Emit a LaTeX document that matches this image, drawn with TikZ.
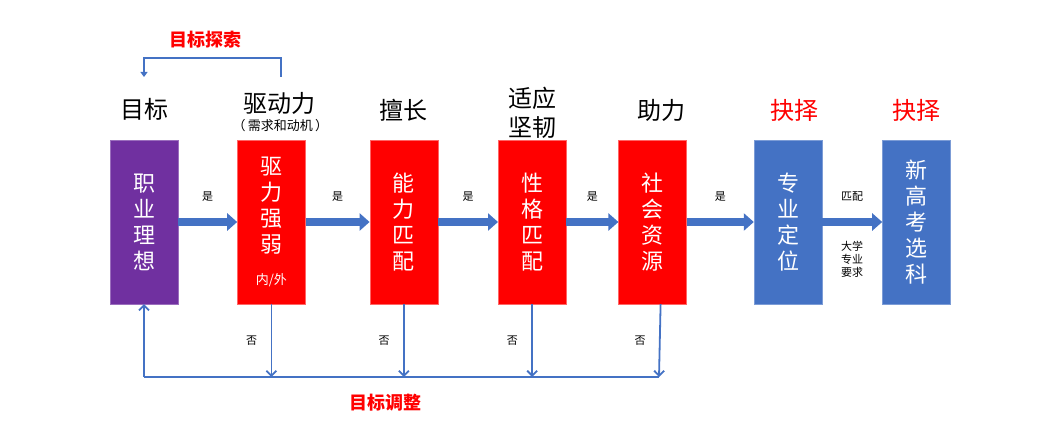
\documentclass[tikz,border=0pt]{standalone}
\usepackage{fontspec}
\setmainfont{Noto Sans CJK SC}
\usetikzlibrary{positioning}
\usetikzlibrary{arrows.meta}
\definecolor{myblue}{HTML}{4472C4}
\definecolor{mypurple}{HTML}{7030A0}
\definecolor{myred}{HTML}{FF0000}

\begin{document}
\begin{tikzpicture}
			[
				x = 1pt, y = -1pt,
				mybox/.style = {rectangle, text = white, align = center, inner sep = 0pt, minimum width = 68pt, minimum height = 164pt, font = \fontsize{22}{26}\selectfont},
				mypurplebox/.style = {mybox, fill = mypurple, draw = mypurple!70!white},
				myredbox/.style = {mybox, fill = myred, draw = myred!60!white},
				mybluebox/.style = {mybox, fill = myblue, draw = myblue!70!white},
				myheader/.style = {align = center, font = \fontsize{24}{29}\selectfont},
				mylabel/.style = {text = black, align = center, font = \fontsize{11}{13}\selectfont},
				mytitle/.style = {text = myred, font = \fontsize{18}{22}\selectfont\bfseries},
				mybigarrow/.style = {myblue, line width = 8pt, -{Triangle[length = 10pt, width = 17pt]}},
				myarrow/.style = {myblue, line width = 1.8pt, -{Straight Barb[length = 5pt, width = 10pt]}},
				mysmallarrow/.style = {myblue, line width = 1.8pt, -{Triangle[length = 5pt, width = 7pt]}},
				myline/.style = {myblue, line width = 1.8pt}
			]
			\useasboundingbox (0,0) rectangle (1044,446);
			%
			\node (zyl) [mypurplebox] at (144,222) {职\\业\\理\\想};
			\node (qlq) [myredbox, right = 59pt of zyl] {驱\\力\\强\\弱\\[6pt]{\fontsize{13}{13}\selectfont 内/外}};
			\node (nlp) [myredbox, right = 64pt of qlq] {能\\力\\匹\\配};
			\node (xgp) [myredbox, right = 60pt of nlp] {性\\格\\匹\\配};
			\node (shz) [myredbox, right = 52pt of xgp] {社\\会\\资\\源};
			\node (zyd) [mybluebox, right = 67pt of shz] {专\\业\\定\\位};
			\node (xgk) [mybluebox, right = 60pt of zyd] {新\\高\\考\\选\\科};
			%
			\node (mb) [myheader, above = 30pt of zyl.north, anchor = center] {目标};
			\node (xq) [myheader, font = \fontsize{13}{15}\selectfont, above = 14pt of qlq.north, anchor = center, xshift = 9pt] {（\,需求和动机\,）};
			\node (qdl) [myheader, above = 36pt of qlq.north, anchor = center, xshift = 8pt] {驱动力};
			\node (sc) [myheader, above = 30pt of nlp.north, anchor = center] {擅长};
			\node (syj) [myheader, above = 27pt of xgp.north, anchor = center] {适应\\坚韧};
			\node (zl) [myheader, above = 29pt of shz.north, anchor = center, xshift = 9pt] {助力};
			\node (jz1) [myheader, text = myred, above = 29pt of zyd.north, anchor = center, xshift = 6pt] {抉择};
			\node (jz2) [myheader, text = myred, above = 29pt of xgk.north, anchor = center] {抉择};
			%
			\draw [mybigarrow] (zyl) -- (qlq) node [midway, above = 13pt, mylabel] {是};
			\draw [mybigarrow] (qlq) -- (nlp) node [midway, above = 13pt, mylabel] {是};
			\draw [mybigarrow] (nlp) -- (xgp) node [midway, above = 13pt, mylabel] {是};
			\draw [mybigarrow] (xgp) -- (shz) node [midway, above = 13pt, mylabel] {是};
			\draw [mybigarrow] (shz) -- (zyd) node [midway, above = 13pt, mylabel] {是};
			\draw [mybigarrow] (zyd) -- (xgk) node [midway, above = 13pt, mylabel] {匹配} node [midway, below = 12pt, mylabel] {大学\\专业\\要求};
			%
			\node (mbts) [mytitle] at (205,40) {目标探索};
			\coordinate (tsr) at (281,77);
			\coordinate (tsl) at (144,77);
			\draw [mysmallarrow] (tsr) -- ++(0,-19) -| (tsl);
			%
			\coordinate (tzl) at (144,377);
			\coordinate (tzr) at (659,377);
			\draw [myline] (tzl) -- (tzr);
			\draw [myarrow] (tzl) -- (zyl.south);
			\draw [myarrow] (qlq.south) -- (qlq.south |- tzl) node [midway, left = 10pt, mylabel] {否};
			\draw [myarrow] (nlp.south) -- (nlp.south |- tzl) node [midway, left = 10pt, mylabel] {否};
			\draw [myarrow] (xgp.south) -- (xgp.south |- tzl) node [midway, left = 10pt, mylabel] {否};
			\draw [myarrow] ([xshift = 8pt]shz.south) -- (tzr) node [midway, left = 10pt, mylabel] {否};
			\node (mbtz) [mytitle] at (385,403) {目标调整};
			%
		\end{tikzpicture}
\end{document}
